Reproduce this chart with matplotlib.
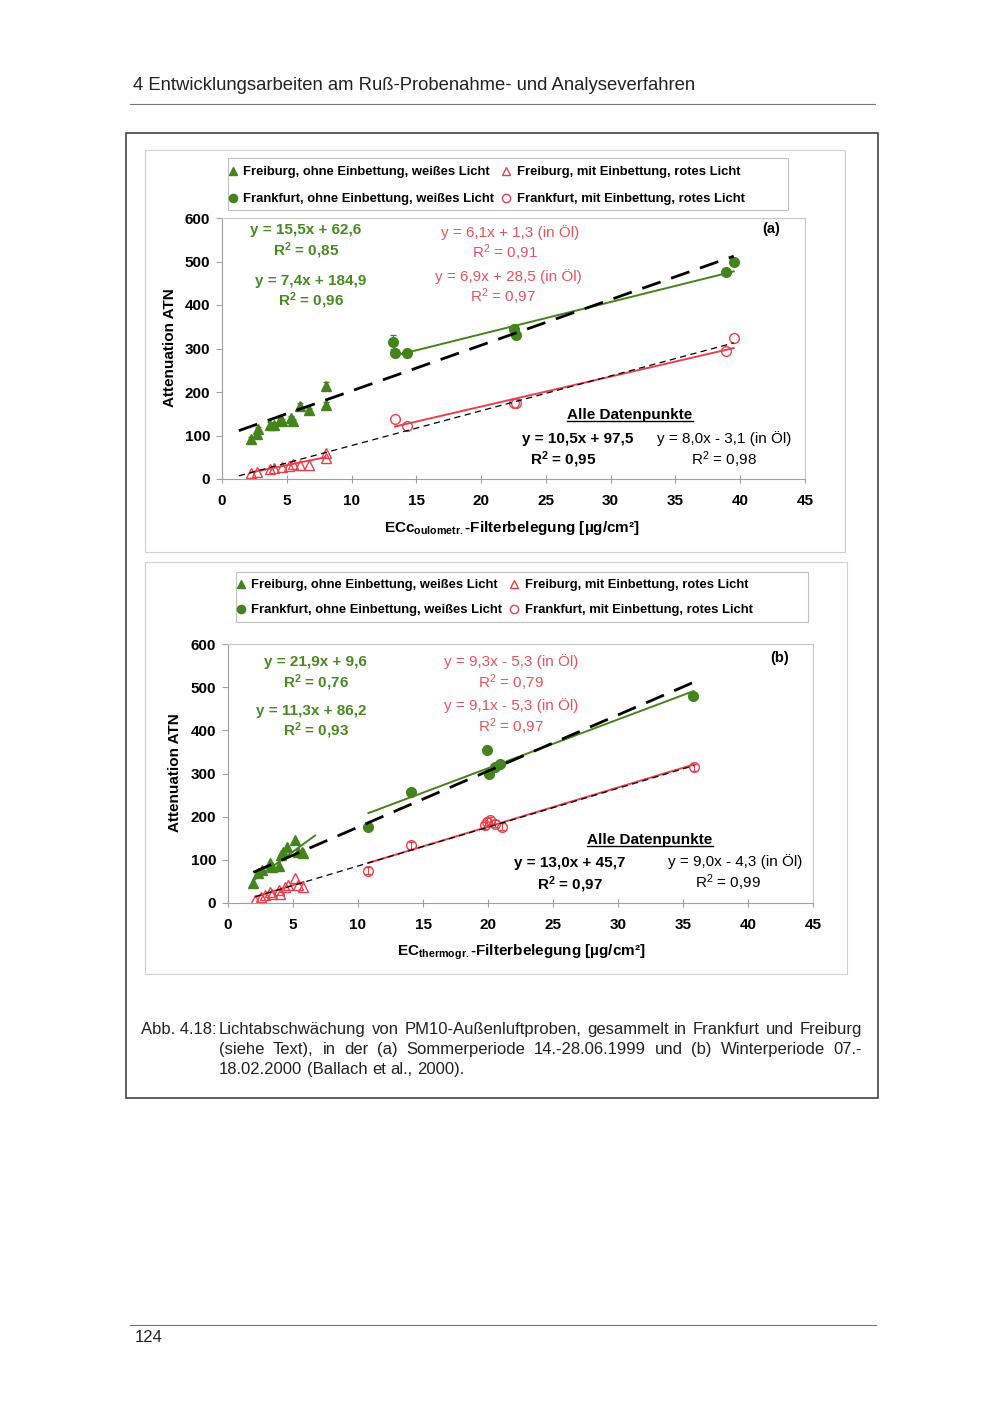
import matplotlib
matplotlib.use("Agg")
import matplotlib.pyplot as plt
import numpy as np
from matplotlib.patches import Rectangle
from matplotlib.lines import Line2D
from matplotlib import font_manager

# ---------------- data ----------------
# Chart (a): summer period
fr_white_x_a = [2.2, 2.7, 2.8, 3.7, 4.0, 4.5, 4.6, 5.3, 5.5, 6.0, 6.7, 8.0, 8.0]
fr_white_y_a = [93, 103, 116, 125, 125, 136, 134, 140, 134, 167, 158, 171, 214]
fr_white_err_a = [4, 4, 4, 5, 4, 5, 5, 5, 4, 8, 5, 5, 10]
fr_red_x_a = [2.2, 2.7, 3.7, 4.0, 4.6, 5.2, 5.5, 6.0, 6.7, 8.0, 8.0]
fr_red_y_a = [13, 17, 22, 25, 27, 30, 35, 32, 32, 48, 59]
fk_white_x_a = [13.2, 13.35, 14.25, 22.5, 22.7, 38.9, 39.5]
fk_white_y_a = [315, 290, 290, 345, 332, 475, 500]
fk_white_err_a = [15, 5, 10, 6, 4, 6, 5]
fk_red_x_a = [13.35, 14.25, 22.5, 22.7, 38.9, 39.5]
fk_red_y_a = [138, 121, 175, 175, 294, 323]

# Chart (b): winter period
fr_white_x_b = [1.95, 2.3, 2.6, 3.2, 3.4, 3.9, 4.1, 4.25, 4.5, 5.15, 5.4, 5.7, 5.8]
fr_white_y_b = [47, 69, 76, 93, 84, 86, 111, 119, 130, 146, 117, 117, 115]
fr_red_x_b = [2.1, 2.5, 2.85, 3.25, 3.35, 3.9, 4.0, 4.4, 4.65, 5.15, 5.4, 5.8]
fr_red_y_b = [7, 15, 19, 26, 22, 30, 22, 38, 42, 57, 42, 38]
fk_white_x_b = [10.8, 14.1, 19.9, 20.1, 20.5, 20.9, 35.8]
fk_white_y_b = [175, 258, 354, 300, 315, 323, 479]
fk_red_x_b = [10.8, 14.1, 19.8, 19.9, 20.15, 20.5, 21.05, 35.85]
fk_red_y_b = [75, 134, 180, 188, 192, 184, 177, 314]
fk_red_err_b = [8, 8, 8, 8, 8, 8, 8, 8]

# trend line coefficients (slope, intercept) as printed in the chart
fit_fr_white_a = (15.5, 62.6)
fit_fk_white_a = (7.4, 184.9)
fit_fr_red_a = (6.1, 1.3)
fit_fk_red_a = (6.9, 28.5)
fit_all_white_a = (10.5, 97.5)
fit_all_red_a = (8.0, -3.1)
fit_fr_white_b = (21.9, 9.6)
fit_fk_white_b = (11.3, 86.2)
fit_fr_red_b = (9.3, -5.3)
fit_fk_red_b = (9.1, -5.3)
fit_all_white_b = (13.0, 45.7)
fit_all_red_b = (9.0, -4.3)

x_ticks = [0, 5, 10, 15, 20, 25, 30, 35, 40, 45]
y_ticks = [0, 100, 200, 300, 400, 500, 600]

legend_labels = ["Freiburg, ohne Einbettung, weißes Licht",
                 "Frankfurt, ohne Einbettung, weißes Licht",
                 "Freiburg, mit Einbettung, rotes Licht",
                 "Frankfurt, mit Einbettung, rotes Licht"]

# ---------------- style ----------------
W, H = 1000, 1414
names = {f.name for f in font_manager.fontManager.ttflist}
HAS_NARROW = 'Liberation Sans Narrow' in names
NARROW = 'Liberation Sans Narrow' if HAS_NARROW else 'Liberation Sans'
LEG_SIZE = 11.2 if HAS_NARROW else 9.4
plt.rcParams['font.family'] = ['Liberation Sans', 'DejaVu Sans']
plt.rcParams['mathtext.fontset'] = 'custom'
plt.rcParams['mathtext.rm'] = 'Liberation Sans'
plt.rcParams['mathtext.bf'] = 'Liberation Sans:bold'
plt.rcParams['mathtext.it'] = 'Liberation Sans:italic'

GREEN = '#43841c'
GREEN_TXT = '#468a20'
RED = '#e8404c'
RED_TXT = '#e5535e'
AXC = '#a0a0a0'

fig = plt.figure(figsize=(W / 100, H / 100), dpi=100)
fig.patch.set_facecolor('white')


def fx(x):
    return x / W


def fy(y):
    return 1 - y / H


def ftext(x, y, s, **kw):
    kw.setdefault('ha', 'center')
    kw.setdefault('va', 'center')
    return fig.text(fx(x), fy(y), s, **kw)


def frect(x0, y0, x1, y1, ec, lw):
    fig.add_artist(Rectangle((fx(x0), fy(y1)), (x1 - x0) / W, (y1 - y0) / H,
                             transform=fig.transFigure, fill=False, ec=ec, lw=lw))


def fline(x0, y0, x1, y1, color, lw):
    fig.add_artist(Line2D([fx(x0), fx(x1)], [fy(y0), fy(y1)], transform=fig.transFigure,
                          color=color, lw=lw))


# page decorations
ftext(133, 86, "4 Entwicklungsarbeiten am Ruß-Probenahme- und Analyseverfahren",
      ha='left', fontsize=13.3, color='#222222')
fline(130, 104, 875, 104, '#777777', 0.8)
fline(130, 1325, 876, 1325, '#777777', 0.8)
ftext(135, 1338, "124", ha='left', fontsize=12, color='#222222')
frect(126, 133, 878, 1098, '#444444', 1.2)
frect(145, 150, 845, 552, '#d0d0d0', 0.8)
frect(145, 562, 847, 974, '#d0d0d0', 0.8)


def make_axes(l, r, t, b):
    ax = fig.add_axes([l / W, 1 - b / H, (r - l) / W, (b - t) / H])
    ax.set_xlim(0, 45)
    ax.set_ylim(0, 600)
    ax.set_xticks(x_ticks)
    ax.set_yticks(y_ticks)
    for sp in ax.spines.values():
        sp.set_color('#c8c8c8')
        sp.set_linewidth(0.8)
    ax.spines['left'].set_color(AXC)
    ax.spines['bottom'].set_color(AXC)
    ax.tick_params(axis='y', direction='out', length=4, color=AXC, labelsize=11, pad=4.5)
    ax.tick_params(axis='x', direction='inout', length=6, color=AXC, labelsize=11, pad=8)
    for lbl in ax.get_xticklabels() + ax.get_yticklabels():
        lbl.set_fontweight('bold')
    ax.patch.set_alpha(0)
    return ax


def trend(ax, coef, xs, color, lw, dashes=None, ext_lo=0.0, ext_hi=0.0, z=3):
    x0, x1 = min(xs) - ext_lo, max(xs) + ext_hi
    xx = np.array([x0, x1])
    yy = coef[0] * xx + coef[1]
    ln, = ax.plot(xx, yy, color=color, lw=lw, zorder=z)
    if dashes is not None:
        ln.set_dashes(dashes)
    return ln


def markers(ax, xs, ys, marker, filled, color, ms=7):
    if filled:
        h, = ax.plot(xs, ys, ls='none', marker=marker, ms=ms, mfc=color, mec=color, zorder=2)
    else:
        h, = ax.plot(xs, ys, ls='none', marker=marker, ms=ms, mfc='none', mec=color,
                     mew=1.0, zorder=2)
    return h


def legend(handles, box, top, spacing):
    x0, y0, x1, y1 = box
    frect(x0, y0, x1, y1, '#c0c0c0', 0.8)
    leg = fig.legend(handles, legend_labels, loc='upper left',
                     bbox_to_anchor=(fx(x0 + 1), fy(top)),
                     ncol=2, frameon=False,
                     prop={'family': NARROW, 'weight': 'bold', 'size': LEG_SIZE},
                     handlelength=0.6, handletextpad=0.5, columnspacing=0.6,
                     labelspacing=spacing, borderpad=0, borderaxespad=0,
                     markerscale=0.85)
    return leg


def r2(val, bold):
    if bold:
        return r"R$^{\mathbf{2}}$ = " + val
    return r"R$^{2}$ = " + val


# ---------------- chart (a) ----------------
axa = make_axes(222, 805, 218, 479)
axa.errorbar(fr_white_x_a, fr_white_y_a, yerr=fr_white_err_a, fmt='none', ecolor=GREEN,
             elinewidth=0.8, capsize=2.5, zorder=2)
axa.errorbar(fk_white_x_a, fk_white_y_a, yerr=fk_white_err_a, fmt='none', ecolor=GREEN,
             elinewidth=0.8, capsize=2.5, zorder=2)
h1 = markers(axa, fr_white_x_a, fr_white_y_a, '^', True, GREEN)
h2 = markers(axa, fk_white_x_a, fk_white_y_a, 'o', True, GREEN)
h3 = markers(axa, fr_red_x_a, fr_red_y_a, '^', False, RED)
h4 = markers(axa, fk_red_x_a, fk_red_y_a, 'o', False, RED)
trend(axa, fit_fr_red_a, fr_red_x_a, RED, 1.4)
trend(axa, fit_fk_red_a, fk_red_x_a, RED, 1.4)
trend(axa, fit_fk_white_a, fk_white_x_a, GREEN, 1.4)
trend(axa, fit_all_white_a, fr_white_x_a + fk_white_x_a, 'black', 2.0, dashes=(7, 4),
      ext_lo=0.9, z=4)
trend(axa, fit_all_red_a, fr_red_x_a + fk_red_x_a, 'black', 0.9, dashes=(5, 3.5),
      ext_lo=0.9, z=4)
legend([h1, h2, h3, h4], (228, 158, 788, 210), 166, 1.15)

ftext(170, 348, "Attenuation ATN", rotation=90, fontsize=11, fontweight='bold')
ftext(512, 528, r"ECc$_{\mathbf{oulometr.}}$-Filterbelegung [µg/cm²]", fontsize=11,
      fontweight='bold')
ftext(771, 229, "(a)", fontsize=10.5, fontweight='bold')

eq = dict(fontsize=11)
ftext(306, 230, "y = 15,5x + 62,6", color=GREEN_TXT, fontweight='bold', **eq)
ftext(306, 251, r2("0,85", True), color=GREEN_TXT, fontweight='bold', **eq)
ftext(311, 281, "y = 7,4x + 184,9", color=GREEN_TXT, fontweight='bold', **eq)
ftext(311, 301, r2("0,96", True), color=GREEN_TXT, fontweight='bold', **eq)
ftext(510, 233, "y = 6,1x + 1,3 (in Öl)", color=RED_TXT, **eq)
ftext(505, 253, r2("0,91", False), color=RED_TXT, **eq)
ftext(508, 277, "y = 6,9x + 28,5 (in Öl)", color=RED_TXT, **eq)
ftext(503, 297, r2("0,97", False), color=RED_TXT, **eq)
ua = ftext(630, 415, "Alle Datenpunkte", fontweight='bold', **eq)
ftext(578, 439, "y = 10,5x + 97,5", fontweight='bold', **eq)
ftext(563, 460, r2("0,95", True), fontweight='bold', **eq)
ftext(724, 439, "y = 8,0x - 3,1 (in Öl)", **eq)
ftext(724, 460, r2("0,98", False), **eq)

# ---------------- chart (b) ----------------
axb = make_axes(228, 813, 644, 903)
axb.errorbar(fk_red_x_b, fk_red_y_b, yerr=fk_red_err_b, fmt='none', ecolor=RED,
             elinewidth=0.7, capsize=2.5, zorder=2)
g1 = markers(axb, fr_white_x_b, fr_white_y_b, '^', True, GREEN)
g2 = markers(axb, fk_white_x_b, fk_white_y_b, 'o', True, GREEN)
g3 = markers(axb, fr_red_x_b, fr_red_y_b, '^', False, RED)
g4 = markers(axb, fk_red_x_b, fk_red_y_b, 'o', False, RED)
trend(axb, fit_fr_red_b, fr_red_x_b, RED, 1.4)
trend(axb, fit_fk_red_b, fk_red_x_b, RED, 1.4)
trend(axb, fit_fr_white_b, fr_white_x_b, GREEN, 1.4, ext_hi=0.9)
trend(axb, fit_fk_white_b, fk_white_x_b, GREEN, 1.4)
trend(axb, fit_all_white_b, fr_white_x_b + fk_white_x_b, 'black', 2.0, dashes=(7, 4), z=4)
trend(axb, fit_all_red_b, fr_red_x_b + fk_red_x_b, 'black', 0.9, dashes=(5, 3.5), z=4)
legend([g1, g2, g3, g4], (236, 572, 808, 622), 579, 1.0)

ftext(175, 773, "Attenuation ATN", rotation=90, fontsize=11, fontweight='bold')
ftext(521, 952, r"EC$_{\mathbf{thermogr.}}$-Filterbelegung [µg/cm²]", fontsize=11,
      fontweight='bold')
ftext(780, 658, "(b)", fontsize=10.5, fontweight='bold')

ftext(315, 662, "y = 21,9x + 9,6", color=GREEN_TXT, fontweight='bold', **eq)
ftext(316, 683, r2("0,76", True), color=GREEN_TXT, fontweight='bold', **eq)
ftext(311, 711, "y = 11,3x + 86,2", color=GREEN_TXT, fontweight='bold', **eq)
ftext(316, 731, r2("0,93", True), color=GREEN_TXT, fontweight='bold', **eq)
ftext(511, 662, "y = 9,3x - 5,3 (in Öl)", color=RED_TXT, **eq)
ftext(511, 683, r2("0,79", False), color=RED_TXT, **eq)
ftext(511, 706, "y = 9,1x - 5,3 (in Öl)", color=RED_TXT, **eq)
ftext(511, 727, r2("0,97", False), color=RED_TXT, **eq)
ub = ftext(650, 840, "Alle Datenpunkte", fontweight='bold', **eq)
ftext(570, 863, "y = 13,0x + 45,7", fontweight='bold', **eq)
ftext(570, 885, r2("0,97", True), fontweight='bold', **eq)
ftext(735, 862, "y = 9,0x - 4,3 (in Öl)", **eq)
ftext(728, 883, r2("0,99", False), **eq)

# ---------------- caption (justified) ----------------
renderer = fig.canvas.get_renderer()
CAP = dict(fontsize=12, color='#222222')


def justify(line, x0, x1, ybase, just=True):
    words = line.split(' ')
    texts = [fig.text(0, fy(ybase), w, ha='left', va='baseline', **CAP) for w in words]
    widths = [t.get_window_extent(renderer).width for t in texts]
    if just and len(words) > 1:
        gap = ((x1 - x0) - sum(widths)) / (len(words) - 1)
    else:
        sp = fig.text(0, 0, 'a a', **CAP)
        sp2 = fig.text(0, 0, 'aa', **CAP)
        gap = sp.get_window_extent(renderer).width - sp2.get_window_extent(renderer).width
        sp.remove()
        sp2.remove()
    x = x0
    for t, w in zip(texts, widths):
        t.set_x(fx(x))
        x += w + gap


ftext(141, 1034, "Abb. 4.18:", ha='left', va='baseline', **CAP)
justify("Lichtabschwächung von PM10-Außenluftproben, gesammelt in Frankfurt und Freiburg",
        219, 862, 1034)
justify("(siehe Text), in der (a) Sommerperiode 14.-28.06.1999 und (b) Winterperiode 07.-",
        219, 862, 1054)
justify("18.02.2000 (Ballach et al., 2000).", 219, 862, 1074, just=False)

# underline "Alle Datenpunkte"
fig.canvas.draw()
for t in (ua, ub):
    bb = t.get_window_extent(renderer)
    yy = bb.y0 + 1
    fig.add_artist(Line2D([bb.x0 / W, bb.x1 / W], [yy / H, yy / H], transform=fig.transFigure,
                          color='black', lw=1.0))

fig.savefig('out.png', dpi=100)
